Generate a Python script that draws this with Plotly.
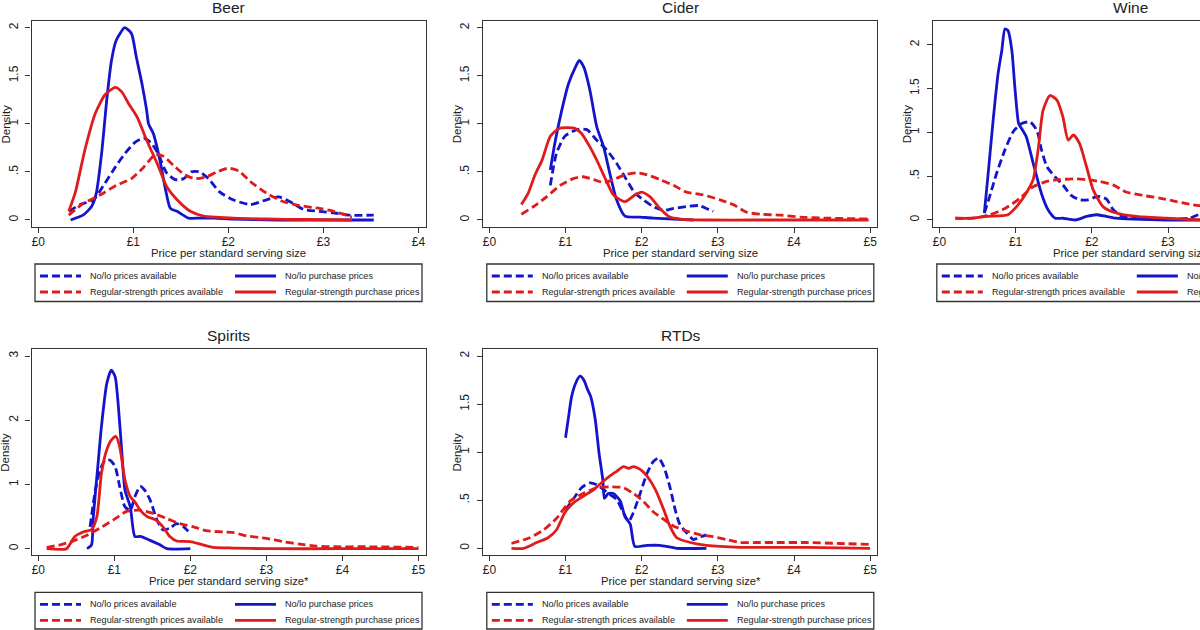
import plotly.graph_objects as go

W, H = 1200, 630
BLUE = "#1414cc"
RED = "#e01b1b"
FRAME = "#333333"
FONT = "Liberation Sans, Arial, sans-serif"
DASH = "8px,4px"

# === DATA ===
# Beer
beer_avail_nolo_x = [0.32, 0.44, 0.58, 0.68, 0.81, 0.91, 1.02, 1.11, 1.19, 1.26, 1.35, 1.44, 1.53, 1.61,
                     1.70, 1.79, 1.91, 2.05, 2.23, 2.40, 2.53, 2.65, 2.79, 2.96, 3.14, 3.28, 3.53]
beer_avail_nolo_y = [0.09, 0.16, 0.21, 0.35, 0.55, 0.69, 0.81, 0.85, 0.80, 0.69, 0.49, 0.42, 0.43, 0.50,
                     0.50, 0.43, 0.29, 0.21, 0.16, 0.21, 0.24, 0.19, 0.11, 0.09, 0.07, 0.05, 0.05]
beer_buy_nolo_x = [0.34, 0.47, 0.56, 0.61, 0.67, 0.72, 0.77, 0.82, 0.91, 0.98, 1.03, 1.09, 1.14, 1.16,
                   1.21, 1.28, 1.34, 1.39, 1.46, 1.58, 1.70, 1.85, 2.05, 2.5, 3.0, 3.53]
beer_buy_nolo_y = [0, 0.05, 0.14, 0.28, 0.73, 1.25, 1.66, 1.87, 2.0, 1.94, 1.70, 1.42, 1.14, 1.0,
                   0.9, 0.62, 0.31, 0.12, 0.09, 0.02, 0.02, 0.02, 0.01, 0, 0, 0]
beer_avail_reg_x = [0.32, 0.47, 0.65, 0.82, 0.98, 1.11, 1.23, 1.32, 1.42, 1.54, 1.65, 1.77, 1.88, 2.0,
                    2.11, 2.23, 2.40, 2.58, 2.75, 2.96, 3.11, 3.30]
beer_avail_reg_y = [0.05, 0.17, 0.26, 0.36, 0.43, 0.55, 0.68, 0.66, 0.57, 0.47, 0.43, 0.45, 0.50, 0.54,
                    0.51, 0.40, 0.28, 0.19, 0.15, 0.12, 0.09, 0.03]
beer_buy_reg_x = [0.32, 0.39, 0.49, 0.60, 0.70, 0.81, 0.88, 0.95, 1.04, 1.14, 1.25, 1.35, 1.46, 1.60,
                  1.74, 2.05, 2.40, 2.8, 3.30]
beer_buy_reg_y = [0.09, 0.29, 0.73, 1.11, 1.30, 1.38, 1.33, 1.21, 1.07, 0.83, 0.59, 0.35, 0.21, 0.09,
                  0.04, 0.02, 0.01, 0.005, 0]

# Cider
cider_avail_nolo_x = [0.80, 0.88, 0.99, 1.15, 1.28, 1.41, 1.54, 1.67, 1.80, 1.91, 2.02, 2.15, 2.29, 2.42,
                      2.59, 2.75, 2.85, 2.94]
cider_avail_nolo_y = [0.36, 0.69, 0.87, 0.94, 0.94, 0.83, 0.73, 0.59, 0.42, 0.28, 0.21, 0.14, 0.10, 0.12,
                      0.14, 0.15, 0.12, 0.09]
cider_buy_nolo_x = [0.80, 0.86, 0.95, 1.04, 1.13, 1.18, 1.24, 1.32, 1.41, 1.50, 1.58, 1.67, 1.78, 1.98,
                    2.15, 2.42, 2.68]
cider_buy_nolo_y = [0.52, 0.80, 1.14, 1.42, 1.59, 1.66, 1.59, 1.35, 0.97, 0.76, 0.49, 0.21, 0.04, 0.03,
                    0.02, 0.01, 0]
cider_avail_reg_x = [0.42, 0.58, 0.75, 0.93, 1.10, 1.23, 1.37, 1.50, 1.63, 1.78, 1.94, 2.07, 2.24, 2.42,
                     2.59, 2.81, 3.03, 3.20, 3.38, 3.56, 3.82, 4.08, 4.39, 4.98]
cider_avail_reg_y = [0.06, 0.14, 0.24, 0.36, 0.43, 0.45, 0.42, 0.39, 0.42, 0.47, 0.49, 0.47, 0.42, 0.36,
                     0.29, 0.26, 0.21, 0.16, 0.08, 0.06, 0.05, 0.03, 0.02, 0.01]
cider_buy_reg_x = [0.42, 0.51, 0.60, 0.69, 0.80, 0.91, 1.02, 1.13, 1.21, 1.32, 1.43, 1.54, 1.63, 1.78,
                   1.91, 2.0, 2.11, 2.24, 2.37, 2.50, 2.85, 3.5, 4.2, 4.98]
cider_buy_reg_y = [0.16, 0.28, 0.47, 0.62, 0.87, 0.95, 0.96, 0.95, 0.90, 0.76, 0.59, 0.40, 0.26, 0.19,
                   0.26, 0.29, 0.24, 0.12, 0.03, 0.01, 0, 0, 0, 0]

# Wine
wine_avail_nolo_x = [0.59, 0.66, 0.75, 0.86, 0.97, 1.08, 1.19, 1.28, 1.34, 1.41, 1.52, 1.62, 1.73, 1.84,
                     1.95, 2.08, 2.19, 2.28, 2.40, 2.76, 3.07, 3.28, 3.45]
wine_avail_nolo_y = [0.08, 0.27, 0.53, 0.80, 1.01, 1.10, 1.12, 1.02, 0.80, 0.61, 0.49, 0.40, 0.28, 0.23,
                     0.23, 0.27, 0.24, 0.12, 0.04, 0.01, 0.01, 0.02, 0.08]
wine_buy_nolo_x = [0.59, 0.64, 0.71, 0.77, 0.82, 0.86, 0.90, 0.95, 0.99, 1.04, 1.08, 1.14, 1.23, 1.34,
                   1.43, 1.52, 1.62, 1.78, 1.93, 2.06, 2.19, 2.32, 2.54, 2.98, 3.5]
wine_buy_nolo_y = [0.08, 0.53, 1.18, 1.67, 1.94, 2.18, 2.16, 1.94, 1.52, 1.10, 1.04, 0.95, 0.65, 0.30,
                   0.11, 0.02, 0.02, 0, 0.04, 0.06, 0.04, 0.02, 0.01, 0, 0]
wine_avail_reg_x = [0.21, 0.45, 0.66, 0.86, 1.06, 1.23, 1.41, 1.58, 1.76, 1.93, 2.10, 2.28, 2.45, 2.67,
                    2.89, 3.11, 3.28, 3.45]
wine_avail_reg_y = [0.02, 0.02, 0.06, 0.13, 0.25, 0.38, 0.44, 0.46, 0.47, 0.46, 0.44, 0.40, 0.32, 0.28,
                    0.25, 0.21, 0.18, 0.16]
wine_buy_reg_x = [0.21, 0.40, 0.62, 0.90, 1.01, 1.12, 1.23, 1.30, 1.36, 1.45, 1.54, 1.62, 1.69, 1.76,
                  1.84, 1.93, 2.02, 2.15, 2.32, 2.59, 2.98, 3.45]
wine_buy_reg_y = [0.02, 0.02, 0.04, 0.06, 0.15, 0.28, 0.46, 0.83, 1.25, 1.42, 1.37, 1.18, 0.91, 0.97,
                  0.87, 0.61, 0.34, 0.15, 0.08, 0.04, 0.02, 0.0]

# Spirits
spirits_avail_nolo_x = [0.68, 0.75, 0.81, 0.88, 0.94, 1.01, 1.07, 1.14, 1.21, 1.27, 1.34, 1.40, 1.47,
                        1.56, 1.64, 1.73, 1.82, 1.91, 2.0]
spirits_avail_nolo_y = [0.34, 0.91, 1.22, 1.38, 1.38, 1.28, 0.97, 0.65, 0.60, 0.81, 0.97, 0.91, 0.76,
                        0.45, 0.29, 0.32, 0.39, 0.34, 0.24]
spirits_buy_nolo_x = [0.64, 0.70, 0.72, 0.79, 0.83, 0.90, 0.96, 1.01, 1.05, 1.10, 1.14, 1.21, 1.27,
                      1.34, 1.47, 1.60, 1.69, 2.0]
spirits_buy_nolo_y = [0, 0.06, 0.45, 1.38, 1.90, 2.57, 2.78, 2.68, 2.26, 1.48, 0.91, 0.65, 0.19,
                      0.19, 0.13, 0.06, 0, 0]
spirits_avail_reg_x = [0.11, 0.29, 0.46, 0.64, 0.81, 0.99, 1.16, 1.34, 1.51, 1.69, 1.86, 2.04, 2.21,
                       2.43, 2.57, 2.74, 3.0, 3.22, 3.44, 3.66, 3.88, 4.32, 5.0]
spirits_avail_reg_y = [0.02, 0.06, 0.12, 0.21, 0.32, 0.45, 0.58, 0.60, 0.55, 0.47, 0.39, 0.34, 0.28,
                       0.26, 0.25, 0.20, 0.16, 0.11, 0.07, 0.04, 0.03, 0.03, 0.02]
spirits_buy_reg_x = [0.11, 0.37, 0.48, 0.59, 0.70, 0.77, 0.83, 0.90, 0.96, 1.02, 1.07, 1.14, 1.21,
                     1.27, 1.34, 1.43, 1.54, 1.64, 1.73, 1.82, 2.0, 2.13, 2.30, 2.57, 3.0, 4.0, 5.0]
spirits_buy_reg_y = [0, 0, 0.19, 0.26, 0.30, 0.50, 1.17, 1.54, 1.69, 1.75, 1.59, 1.07, 0.81,
                     0.73, 0.60, 0.50, 0.45, 0.34, 0.19, 0.12, 0.11, 0.07, 0.02, 0.01, 0, 0, 0]

# RTDs
rtd_avail_nolo_x = [1.0, 1.10, 1.21, 1.32, 1.41, 1.50, 1.58, 1.67, 1.76, 1.83, 1.89, 1.98, 2.07, 2.15,
                    2.22, 2.29, 2.37, 2.44, 2.50, 2.59, 2.68, 2.77, 2.85]
rtd_avail_nolo_y = [0.40, 0.51, 0.63, 0.68, 0.66, 0.61, 0.56, 0.51, 0.37, 0.28, 0.37, 0.57, 0.78, 0.90,
                    0.94, 0.85, 0.64, 0.40, 0.25, 0.16, 0.09, 0.12, 0.14]
rtd_buy_nolo_x = [1.0, 1.04, 1.08, 1.14, 1.19, 1.24, 1.29, 1.33, 1.39, 1.44, 1.49, 1.51, 1.56, 1.63,
                  1.72, 1.78, 1.85, 1.91, 2.07, 2.24, 2.46, 2.85]
rtd_buy_nolo_y = [1.15, 1.37, 1.58, 1.73, 1.79, 1.75, 1.65, 1.58, 1.34, 0.99, 0.71, 0.52, 0.57, 0.57,
                  0.49, 0.33, 0.25, 0.02, 0.03, 0.03, 0, 0]
rtd_avail_reg_x = [0.29, 0.53, 0.71, 0.88, 1.06, 1.23, 1.41, 1.58, 1.76, 1.89, 2.02, 2.15, 2.29, 2.42,
                   2.59, 2.77, 2.94, 3.12, 3.29, 3.51, 3.73, 4.17, 4.61, 5.0]
rtd_avail_reg_y = [0.05, 0.11, 0.19, 0.31, 0.49, 0.57, 0.63, 0.64, 0.63, 0.57, 0.49, 0.38, 0.30, 0.23,
                   0.18, 0.14, 0.12, 0.09, 0.06, 0.06, 0.06, 0.06, 0.05, 0.04]
rtd_buy_reg_x = [0.29, 0.45, 0.62, 0.77, 0.88, 0.99, 1.10, 1.23, 1.37, 1.50, 1.58, 1.67, 1.76, 1.83,
                 1.89, 1.98, 2.07, 2.18, 2.29, 2.37, 2.46, 2.64, 2.85, 3.29, 3.73, 4.17, 5.0]
rtd_buy_reg_y = [0, 0, 0.06, 0.11, 0.19, 0.37, 0.47, 0.54, 0.61, 0.70, 0.75, 0.80, 0.85, 0.83,
                 0.85, 0.82, 0.75, 0.61, 0.40, 0.23, 0.11, 0.06, 0.03, 0.01, 0.01, 0.01, 0]

# series order: no/lo available, no/lo purchase, regular available, regular purchase
series_names = ["No/lo prices available", "No/lo purchase prices",
                "Regular-strength prices available", "Regular-strength purchase prices"]
series_colors = [BLUE, BLUE, RED, RED]
series_dash = [DASH, "solid", DASH, "solid"]

x_ticks = [0, 1, 2, 3, 4, 5]
x_ticktext = ["£0", "£1", "£2", "£3", "£4", "£5"]

# === PANELS === (frame edges in pixels; wine is cut off by the right edge)
panels = [
    dict(title="Beer", left=31.5, top=21, right=426, xr=[-0.072, 4.08], xmax=4,
         yr=[-0.073, 2.07], yt=[0, 0.5, 1, 1.5, 2], ytt=["0", ".5", "1", "1.5", "2"],
         xtitle="Price per standard serving size",
         data=[(beer_avail_nolo_x, beer_avail_nolo_y), (beer_buy_nolo_x, beer_buy_nolo_y),
               (beer_avail_reg_x, beer_avail_reg_y), (beer_buy_reg_x, beer_buy_reg_y)]),
    dict(title="Cider", left=483.3, top=21, right=877, xr=[-0.08, 5.09], xmax=5,
         yr=[-0.073, 2.07], yt=[0, 0.5, 1, 1.5, 2], ytt=["0", ".5", "1", "1.5", "2"],
         xtitle="Price per standard serving size",
         data=[(cider_avail_nolo_x, cider_avail_nolo_y), (cider_buy_nolo_x, cider_buy_nolo_y),
               (cider_avail_reg_x, cider_avail_reg_y), (cider_buy_reg_x, cider_buy_reg_y)]),
    dict(title="Wine", left=933.3, top=21, right=1200, xr=[-0.08, 3.42], xmax=5,
         yr=[-0.08, 2.27], yt=[0, 0.5, 1, 1.5, 2], ytt=["0", ".5", "1", "1.5", "2"],
         xtitle="Price per standard serving size",
         data=[(wine_avail_nolo_x, wine_avail_nolo_y), (wine_buy_nolo_x, wine_buy_nolo_y),
               (wine_avail_reg_x, wine_avail_reg_y), (wine_buy_reg_x, wine_buy_reg_y)]),
    dict(title="Spirits", left=31.5, top=349.3, right=426, xr=[-0.09, 5.1], xmax=5,
         yr=[-0.103, 3.105], yt=[0, 1, 2, 3], ytt=["0", "1", "2", "3"],
         xtitle="Price per standard serving size*",
         data=[(spirits_avail_nolo_x, spirits_avail_nolo_y), (spirits_buy_nolo_x, spirits_buy_nolo_y),
               (spirits_avail_reg_x, spirits_avail_reg_y), (spirits_buy_reg_x, spirits_buy_reg_y)]),
    dict(title="RTDs", left=483.3, top=349.3, right=877, xr=[-0.08, 5.09], xmax=5,
         yr=[-0.073, 2.07], yt=[0, 0.5, 1, 1.5, 2], ytt=["0", ".5", "1", "1.5", "2"],
         xtitle="Price per standard serving size*",
         data=[(rtd_avail_nolo_x, rtd_avail_nolo_y), (rtd_buy_nolo_x, rtd_buy_nolo_y),
               (rtd_avail_reg_x, rtd_avail_reg_y), (rtd_buy_reg_x, rtd_buy_reg_y)]),
]
FRAME_H = 206
FULL_W = 394.5


def fx(px):
    return px / W


def fy(py):
    return 1 - py / H


fig = go.Figure()
layout = dict(width=W, height=H, autosize=False, margin=dict(l=0, r=0, t=0, b=0),
              paper_bgcolor="white", plot_bgcolor="white", showlegend=False,
              font=dict(family=FONT, color="#222222"))
annotations = []
shapes = []

for i, p in enumerate(panels):
    k = "" if i == 0 else str(i + 1)
    L, T = p["left"], p["top"]
    B = T + FRAME_H
    cut = p["right"] >= W

    for (xs, ys), name, color, dash in zip(p["data"], series_names, series_colors, series_dash):
        fig.add_trace(go.Scatter(x=xs, y=ys, mode="lines", name=name, xaxis="x" + k, yaxis="y" + k,
                                 line=dict(color=color, width=2.8, dash=dash, shape="spline", smoothing=0.6),
                                 hoverinfo="skip"))

    layout["xaxis" + k] = dict(domain=[fx(L), fx(p["right"])], anchor="y" + k, range=p["xr"],
                               tickvals=x_ticks[:p["xmax"] + 1], ticktext=x_ticktext[:p["xmax"] + 1],
                               showline=True, linecolor=FRAME, linewidth=1.3, mirror=True,
                               ticks="outside", ticklen=5, tickcolor=FRAME, showgrid=False, zeroline=False,
                               tickfont=dict(size=12), ticklabelstandoff=-2)
    layout["yaxis" + k] = dict(domain=[fy(B), fy(T)], anchor="x" + k, range=p["yr"],
                               tickvals=p["yt"], ticktext=p["ytt"], tickangle=-90,
                               showline=True, linecolor=FRAME, linewidth=1.3, mirror=not cut,
                               ticks="outside", ticklen=5, tickcolor=FRAME, showgrid=False, zeroline=False,
                               tickfont=dict(size=12), ticklabelstandoff=3)

    cx = L + FULL_W / 2
    annotations.append(dict(text=p["title"], x=fx(cx), y=fy(T - 13.5), xref="paper", yref="paper",
                            showarrow=False, xanchor="center", yanchor="middle", font=dict(size=15.5)))
    annotations.append(dict(text=p["xtitle"], x=fx(cx), y=fy(B + 26), xref="paper", yref="paper",
                            showarrow=False, xanchor="center", yanchor="middle", font=dict(size=11.3)))
    annotations.append(dict(text="Density", x=fx(L - 26), y=fy((T + B) / 2), xref="paper", yref="paper",
                            showarrow=False, xanchor="center", yanchor="middle", textangle=-90,
                            font=dict(size=11.5)))

    # legend box under each panel
    box_top = B + 37
    box_bot = min(box_top + 37.5, H - 1)
    shapes.append(dict(type="rect", xref="paper", yref="paper", x0=fx(L + 3.5), x1=fx(L + 390.5),
                       y0=fy(box_bot), y1=fy(box_top), line=dict(color=FRAME, width=1.3)))
    for j, (name, color, dash) in enumerate(zip(series_names, series_colors, series_dash)):
        col, row = j % 2, j // 2
        sx = L + 8.5 + col * 195
        sy = box_top + 12 + row * 16
        shapes.append(dict(type="line", xref="paper", yref="paper", x0=fx(sx), x1=fx(sx + 41),
                           y0=fy(sy), y1=fy(sy), line=dict(color=color, width=2.8, dash=dash)))
        annotations.append(dict(text=name, x=fx(sx + 48), y=fy(sy), xref="paper", yref="paper",
                                showarrow=False, xanchor="left", yanchor="middle", font=dict(size=9.1)))

layout["annotations"] = annotations
layout["shapes"] = shapes
fig.update_layout(**layout)

# the page's default body margin would push the chart 8px off the window
fig.write_html("out.html", config={"displayModeBar": False},
               post_script="document.body.style.margin='0';")
